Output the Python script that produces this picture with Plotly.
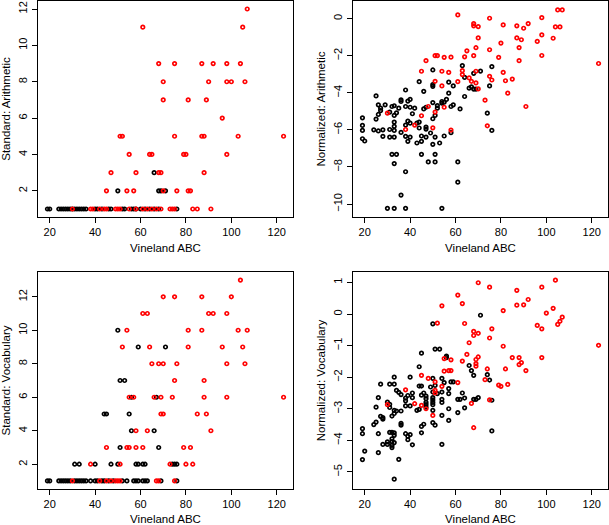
import plotly.graph_objects as go

# ---------------- data ----------------
# Panel 1: Standard: Arithmetic
p1_black_x = [19,20,24,25,26,27,28,29,30,31,32,33,34,35,36,40,41,43,46,47,52,53,56,57,58,60,62,64,66,68,76,
              50,68,69,71, 66]
p1_black_y = [1]*31 + [2,2,2,2] + [3]
p1_red_x = [107, 61,105, 68,75,87,92,98,104, 70,90,98,100,106, 70,81,89, 96,
            51,52,75,87,88,103,123, 55,64,65,79,80,98, 47,58,68,69,88,
            45,54,57,70,76,81,82,
            30,38,39,42,44,45,49,50,51,55,58,61,63,65,67,69,73,74,75,83,85,91]
p1_red_y = [12, 11,11, 9,9,9,9,9,9, 8,8,8,8,8, 7,7,7, 6,
            5,5,5,5,5,5,5, 4,4,4,4,4,4, 3,3,3,3,3,
            2,2,2,2,2,2,2,
            1,1,1,1,1,1,1,1,1,1,1,1,1,1,1,1,1,1,1,1,1,1]

# Panel 2: Normalized: Arithmetic
p2_black_x = [63,76,71,68,50,64,44,57,59,50,50,66,67,68,69,75,64,57,46,38,25,36,36,40,39,56,54,54,50,52,
              38,40,26,27,27,32,33,35,31,34,33,25,19,19,19,19,20,26,29,41,42,46,47,51,52,62,59,58,55,50,
              39,43,44,47,47,44,40,38,33,33,33,31,28,24,26,28,31,33,36,38,40,39,43,45,45,49,47,51,50,53,
              55,58,32,34,45,51,48,51,33,61,38,61,36,30,33,38,54,74,76]
p2_black_y = [-2.54,-2.59,-2.83,-2.95,-2.77,-3.17,-3.40,-3.43,-3.63,-3.56,-3.65,-3.75,-3.68,-3.80,-3.80,-3.63,-4.20,-4.02,-3.92,-3.85,
              -4.17,-4.38,-4.47,-4.36,-4.45,-4.36,-4.47,-4.56,-4.53,-4.69,-4.74,-4.78,-4.65,-4.96,-4.83,-4.74,-4.70,-4.83,-5.04,-5.08,
              -5.22,-5.42,-5.35,-5.76,-6.03,-6.48,-6.60,-5.17,-4.65,-5.13,-4.83,-4.87,-4.78,-5.22,-4.83,-4.87,-4.65,-4.74,-4.51,-5.40,
              -5.53,-5.64,-5.90,-5.85,-5.96,-5.58,-5.64,-5.74,-5.58,-5.81,-6.03,-5.98,-6.00,-6.00,-6.06,-6.35,-6.39,-6.39,-6.14,-6.35,
              -6.39,-6.62,-6.71,-6.62,-6.33,-6.17,-6.39,-6.39,-6.78,-6.71,-6.33,-6.15,-7.32,-7.32,-7.32,-7.32,-7.73,-7.73,-7.82,-7.73,
              -8.26,-8.82,-9.52,-10.23,-10.23,-10.23,-10.23,-5.10,-6.03]
p2_red_x = [61,75,68,68,70,70,81,87,90,92,98,98,105,107,104,106,103,96,87,89,80,88,98,88,79,75,69,65,64,68,
            51,52,55,58,47,45,54,57,63,63,69,81,75,76,85,82,66,67,69,70,51,61,54,83,73,91,48,55,30,51,
            45,42,74,38,50,58,123]
p2_red_y = [0.20,0.02,-0.27,-0.39,-0.43,-1.04,-0.34,-0.39,-0.52,-0.27,0.05,-0.88,0.47,0.47,-0.45,-0.45,-1.06,-1.23,-1.04,-1.14,
            -1.32,-1.56,-1.99,-2.27,-2.09,-1.68,-1.57,-1.74,-2.06,-2.00,-2.00,-2.00,-2.09,-2.08,-2.27,-2.84,-2.84,-2.90,-2.81,-3.02,
            -2.84,-2.90,-3.11,-3.31,-3.26,-3.35,-3.20,-3.38,-3.47,-3.79,-3.38,-3.40,-3.63,-4.02,-4.40,-4.74,-4.74,-4.78,-5.10,-5.04,
            -5.24,-5.74,-5.78,-5.98,-5.89,-6.01,-2.42]

# Panel 3: Standard: Vocabulary
p3_black_x = [50, 59,71, 51,53, 56,67, 44,45,55, 56,66, 51,68,
              31,33,40,47,50,58,59,61,62,74,75,76,
              19,20,24,25,26,27,28,29,31,32,33,34,35,36,38,40,41,43,44,46,48,52,54,57,58,59,61,62,63,69,76]
p3_black_y = [10, 9,9, 7,7, 6,6, 5,5,5, 4,4, 3,3] + [2]*12 + [1]*31
p3_red_x = [104, 70,75,87,100, 61,63,90,92,98, 54,81,87,103,107, 52,64,81,96,105,
            65,68,70,76,98,106, 75,88, 55,57,66,69,74,88,98,123, 69,70,85,89, 58,63,91,
            45,54,55,58,61,79,82, 38,51,73,80,83, 30,42,45,47,49,50,51,67,68,75]
p3_red_y = [13, 12,12,12,12, 11,11,11,11,11, 10,10,10,10,10, 9,9,9,9,9,
            8,8,8,8,8,8, 7,7, 6,6,6,6,6,6,6,6, 5,5,5,5, 4,4,4,
            3,3,3,3,3,3,3, 2,2,2,2,2, 1,1,1,1,1,1,1,1,1,1]

# Panel 4: Normalized: Vocabulary
p4_black_x = [71,50,51,53,45,56,56,44,66,67,74,68,75,54,50,40,33,31,33,27,51,49,44,45,55,59,58,57,34,35,
              36,38,39,41,46,50,52,54,57,63,64,68,69,26,30,31,31,38,40,43,47,47,47,47,47,50,50,50,50,54,
              54,57,61,62,61,64,70,76,25,33,34,36,38,44,50,54,50,51,57,46,45,36,36,27,28,28,24,25,32,33,
              19,19,20,19,26,26,28,30,30,31,32,33,33,32,32,32,33,32,35,33,38,39,39,40,41,45,54,76,41,45]
p4_black_y = [-0.04,-0.31,-1.11,-1.11,-1.24,-1.33,-1.38,-1.67,-1.63,-1.79,-1.92,-1.94,-2.09,-2.04,-2.04,-2.00,-2.00,-2.22,-2.22,-2.22,
              -2.26,-2.31,-2.28,-2.28,-2.17,-2.15,-2.15,-2.36,-2.42,-2.48,-2.55,-2.66,-2.58,-2.65,-2.50,-2.47,-2.52,-2.47,-2.52,-2.50,
              -2.66,-2.70,-2.70,-2.65,-2.79,-2.86,-2.96,-2.75,-2.91,-3.05,-2.60,-2.68,-2.80,-2.87,-2.95,-2.65,-2.72,-2.80,-2.87,-2.70,
              -2.80,-3.00,-2.70,-2.70,-3.12,-2.97,-2.65,-2.73,-2.95,-3.05,-3.07,-3.07,-2.91,-3.02,-3.05,-3.21,-3.44,-3.52,-3.37,-3.49,
              -3.56,-3.46,-3.52,-3.24,-3.28,-3.33,-3.50,-3.42,-3.23,-3.15,-3.63,-3.79,-4.34,-4.61,-3.79,-4.39,-4.13,-4.05,-4.13,-3.75,
              -3.75,-3.76,-3.84,-3.95,-4.04,-4.16,-4.07,-4.23,-4.60,-5.23,-3.79,-3.87,-3.98,-3.82,-4.14,-3.76,-4.13,-3.70,-2.50,-2.57]
p4_red_x = [104,70,75,87,98,61,63,54,87,90,92,103,100,81,107,106,105,96,98,70,68,68,75,76,64,52,66,81,123,65,
            63,70,69,69,69,58,55,85,88,88,89,98,82,91,74,73,57,58,55,61,51,45,48,79,80,83,54,38,51,51,
            75,67,42,30,45,47,50,68]
p4_red_y = [1.07,0.99,0.85,0.75,0.85,0.60,0.33,0.26,0.28,0.29,0.46,0.18,0.03,0.11,-0.10,-0.23,-0.33,-0.36,-0.47,-0.61,
            -0.55,-0.68,-0.76,-0.47,-0.30,-0.29,-0.91,-1.02,-0.99,-1.28,-1.49,-1.36,-1.44,-1.57,-1.65,-1.45,-1.41,-1.38,-1.38,-1.60,
            -1.54,-1.38,-1.74,-1.79,-1.74,-2.08,-1.79,-1.79,-1.81,-2.17,-2.15,-1.94,-2.04,-2.25,-2.29,-2.23,-2.29,-2.40,-2.42,-2.50,
            -2.72,-2.83,-2.84,-2.87,-2.89,-3.00,-3.21,-3.60]

x_title = "Vineland ABC"
y_titles = ["Standard: Arithmetic", "Normalized: Arithmetic", "Standard: Vocabulary", "Normalized: Vocabulary"]
x_ticks = [20, 40, 60, 80, 100, 120]
y_ticks = [[2, 4, 6, 8, 10, 12], [0, -2, -4, -6, -8, -10], [2, 4, 6, 8, 10, 12], [1, 0, -1, -2, -3, -4, -5]]
y_ranges = [[0.56, 12.44], [-10.70, 0.95], [0.52, 13.48], [-5.54, 1.33]]
x_range = [14.84, 127.16]

panels = [
    (p1_black_x, p1_black_y, p1_red_x, p1_red_y),
    (p2_black_x, p2_black_y, p2_red_x, p2_red_y),
    (p3_black_x, p3_black_y, p3_red_x, p3_red_y),
    (p4_black_x, p4_black_y, p4_red_x, p4_red_y),
]

W, H = 609, 525
x_domains = [[38 / W, 293 / W], [353 / W, 608 / W]]
y_domains = [[1 - 217 / H, 1 - 1 / H], [1 - 489 / H, 1 - 272 / H]]

FONT = "Liberation Sans, Arial, Helvetica, sans-serif"

fig = go.Figure()
layout = dict(
    width=W, height=H, margin=dict(l=0, r=0, t=0, b=0),
    paper_bgcolor="white", plot_bgcolor="white", showlegend=False,
    font=dict(family=FONT, size=11, color="black"),
)

for i, (bx, by, rx, ry) in enumerate(panels):
    n = i + 1
    sx = "" if n == 1 else str(n)
    row, col = divmod(i, 2)
    marker_common = dict(symbol="circle-open", size=3.5)
    fig.add_trace(go.Scatter(x=bx, y=by, mode="markers", xaxis="x" + sx, yaxis="y" + sx,
                             marker=dict(color="black", line=dict(width=1.7, color="black"), **marker_common),
                             hoverinfo="skip"))
    fig.add_trace(go.Scatter(x=rx, y=ry, mode="markers", xaxis="x" + sx, yaxis="y" + sx,
                             marker=dict(color="#ff0000", line=dict(width=1.7, color="#ff0000"), **marker_common),
                             hoverinfo="skip"))
    layout["xaxis" + sx] = dict(
        domain=x_domains[col], anchor="y" + sx, range=x_range,
        tickmode="array", tickvals=x_ticks, ticks="outside", ticklen=5, tickwidth=1, tickcolor="black",
        showline=True, mirror=True, linecolor="black", linewidth=1.3, showgrid=False, zeroline=False,
        tickfont=dict(size=11), title=dict(text=x_title, font=dict(size=11.5), standoff=6),
    )
    layout["yaxis" + sx] = dict(
        domain=y_domains[row], anchor="x" + sx, range=y_ranges[i],
        tickmode="array", tickvals=y_ticks[i], ticks="outside", ticklen=5, tickwidth=1, tickcolor="black",
        showline=True, mirror=True, linecolor="black", linewidth=1.3, showgrid=False, zeroline=False,
        tickangle=-90, tickfont=dict(size=11), title=dict(text=y_titles[i], font=dict(size=11.5), standoff=4),
    )

fig.update_layout(**layout)
fig.write_html("out.html", config={"displayModeBar": False},
               post_script="document.body.style.margin='0';document.body.style.overflow='hidden';")
